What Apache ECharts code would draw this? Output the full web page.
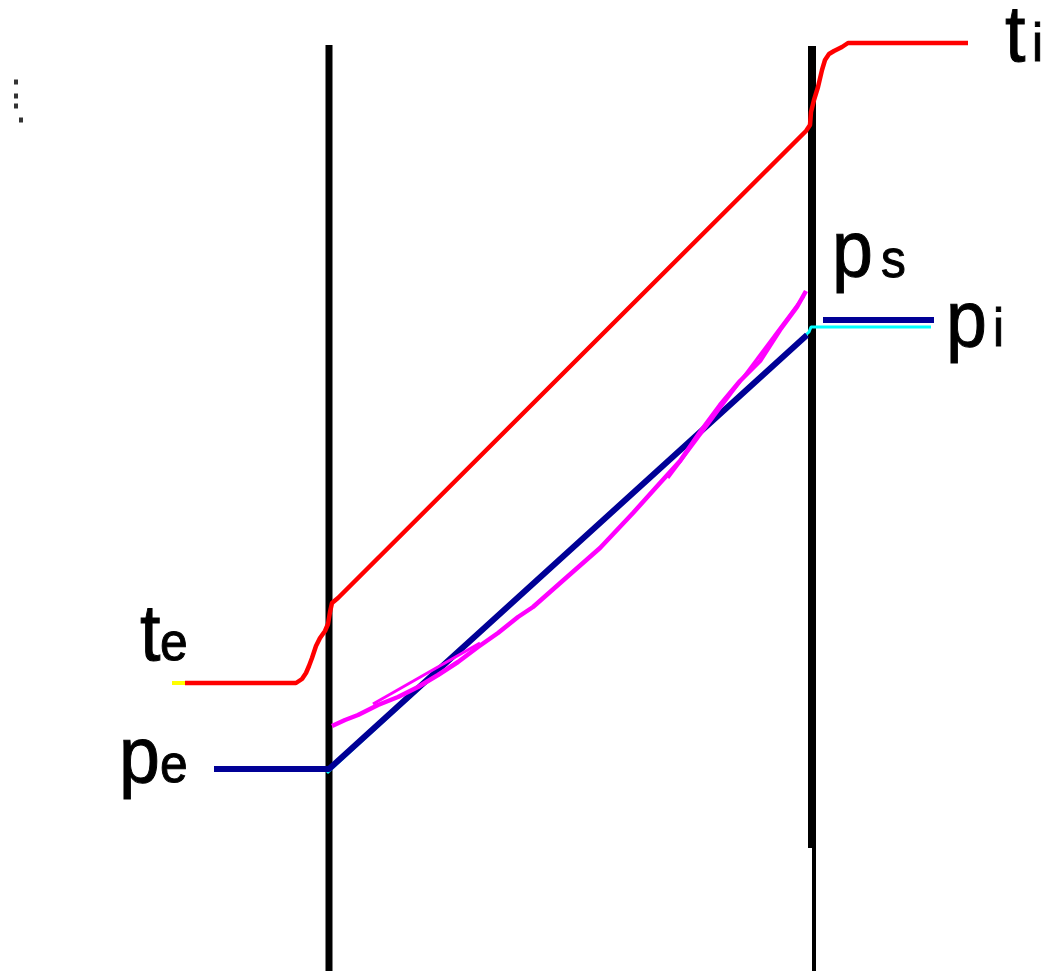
<!DOCTYPE html>
<html>
<head>
<meta charset="utf-8">
<script src="https://cdn.jsdelivr.net/npm/echarts@6/dist/echarts.min.js"></script>
<style>
  html, body { margin: 0; padding: 0; background: #fff; }
  #chart { width: 1045px; height: 971px; }
</style>
</head>
<body>
<div id="chart"></div>
<script>
// wall faces (x position, y top/bottom in drawing units)
var wallLeft = [[329, 45], [329, 971]];
var wallRightThick = [[812, 46], [812, 848]];
var wallRightThin = [[814, 848], [814, 971]];

// temperature profile t (outside te -> inside ti)
var tempStart = [[172, 683], [186, 683]];
var temperature = [
  [185, 683], [296, 683], [302, 679], [306, 673], [309, 666], [312, 658],
  [316, 646], [320, 638], [325, 631], [328, 624], [330, 612], [332, 603],
  [338, 598], [806, 131], [810, 125], [811, 112], [814, 100], [818, 87],
  [822, 70], [825, 60], [829, 54], [834, 51], [842, 47], [848, 43], [968, 43]
];

// vapour pressure p (pe -> pi)
var pressure = [[214, 769], [329, 769], [807, 335]];
var pressureInside = [[823, 320], [934, 320]];
var pressureCyan = [[327, 773], [809, 332], [811, 327], [931, 327]];

// saturation pressure ps
var saturation = [
  [332, 726], [345, 720], [358, 715], [378, 705], [398, 697], [418, 687],
  [438, 675], [458, 662], [478, 647], [498, 633], [518, 617], [533, 607],
  [567, 577], [600, 548], [633, 513], [660, 483], [680, 461], [700, 432],
  [720, 405], [740, 381], [760, 361], [780, 330], [797, 307], [806, 291]
];
var tangentLow = [[373, 704], [480, 643]];
var tangentHigh = [[668, 478], [804, 296]];

// stray marks top left
var dots = [[16, 82], [16, 96], [16, 106], [21, 120]];

var myChart = echarts.init(document.getElementById('chart'));

function line(data, color, width, z) {
  return {
    type: 'line',
    data: data,
    showSymbol: false,
    symbol: 'none',
    lineStyle: { color: color, width: width, cap: 'butt' },
    z: z,
    silent: true
  };
}

// text placed by its baseline
function label(text, x, baseline, size) {
  return {
    type: 'text',
    x: x,
    y: baseline - 0.79 * size,
    scaleX: 0.92,
    style: {
      text: text,
      fill: '#000',
      stroke: '#000',
      lineWidth: 1,
      font: size + 'px "Liberation Sans", Arial, sans-serif',
      verticalAlign: 'top'
    }
  };
}

var option = {
  animation: false,
  grid: { left: 0, right: 0, top: 0, bottom: 0 },
  xAxis: { type: 'value', min: 0, max: 1045, show: false },
  yAxis: { type: 'value', min: 0, max: 971, inverse: true, show: false },
  series: [
    line(wallLeft, '#000', 7, 1),
    line(wallRightThick, '#000', 8, 1),
    line(wallRightThin, '#000', 4, 1),
    line(pressureCyan, '#00ffff', 3, 2),
    line(pressure, '#000096', 6, 3),
    line(pressureInside, '#000096', 6, 3),
    line(saturation, '#ff00ff', 4.5, 4),
    line(tangentLow, '#ff00ff', 3, 4),
    line(tangentHigh, '#ff00ff', 3, 4),
    line(tempStart, '#ffff00', 4, 5),
    line(temperature, '#ff0000', 4.5, 5),
    {
      type: 'scatter',
      data: dots,
      symbol: 'rect',
      symbolSize: [4, 5],
      itemStyle: { color: '#000' },
      silent: true
    }
  ],
  graphic: [
    label('t', 140, 661, 80),
    label('e', 160, 661, 54),
    label('p', 119, 783, 80),
    label('e', 160, 783, 54),
    label('p', 832, 277, 80),
    label('s', 881, 278, 54),
    label('p', 946, 347, 80),
    label('i', 993, 347, 54),
    label('t', 1005, 62, 80),
    label('i', 1032, 62, 54)
  ]
};

myChart.setOption(option);
</script>
</body>
</html>
